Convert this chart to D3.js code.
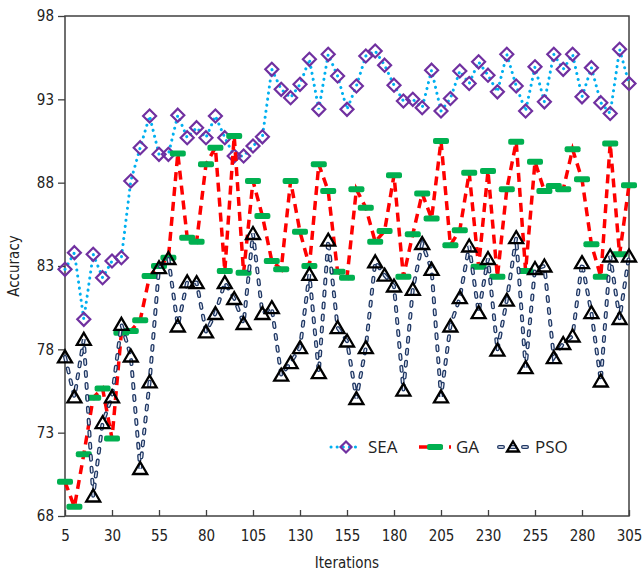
<!DOCTYPE html>
<html>
<head>
<meta charset="utf-8">
<script src="https://cdnjs.cloudflare.com/ajax/libs/d3/7.8.5/d3.min.js"></script>
<style>
  body { margin: 0; background: #fff; }
  svg text { font-family: "DejaVu Sans Condensed", "DejaVu Sans", sans-serif; fill: #222; }
  svg .legend text { font-family: "Open Sans", sans-serif; }
</style>
</head>
<body>
<div id="chart"></div>
<script>
// iterations 5..305, step 5
var iterations = [5,10,15,20,25,30,35,40,45,50,55,60,65,70,75,80,85,90,95,100,
  105,110,115,120,125,130,135,140,145,150,155,160,165,170,175,180,185,190,195,200,
  205,210,215,220,225,230,235,240,245,250,255,260,265,270,275,280,285,290,295,300,305];

var sea = [82.8,83.8,79.8,83.7,82.3,83.3,83.5,88.1,90.1,92.0,89.7,89.7,92.05,90.7,91.3,90.7,92.0,90.7,89.6,89.6,
  90.2,90.75,94.8,93.6,93.1,93.9,95.4,92.4,95.7,94.4,92.4,93.8,95.6,95.9,95.05,93.85,92.9,93.0,92.5,94.75,
  92.3,93.05,94.7,93.95,95.25,94.45,93.45,95.7,93.8,92.3,94.95,92.85,95.7,94.8,95.7,93.15,94.9,92.8,92.15,96.0,93.95];

var ga = [70.05,68.55,71.7,75.1,75.65,72.65,79.0,79.1,79.75,82.4,83.0,83.5,89.75,84.7,84.45,89.1,90.1,82.7,90.8,82.6,
  88.1,86.0,83.3,82.8,88.1,85.05,83.0,89.1,87.5,82.65,82.3,87.6,86.5,84.45,85.1,88.45,82.35,84.9,87.35,85.85,
  90.5,84.25,85.15,88.6,82.95,88.7,82.35,87.6,90.45,82.7,89.25,87.5,87.8,87.6,90.0,88.2,84.3,82.35,90.35,83.7,87.85];

var pso = [77.55,75.15,78.6,69.2,73.6,75.15,79.5,77.6,70.85,76.05,82.9,83.45,79.4,82.05,82.0,79.05,80.15,82.0,81.05,79.55,
  84.95,80.15,80.5,76.45,77.2,78.1,82.5,76.6,84.55,79.3,78.5,75.05,78.1,83.25,82.45,81.8,75.55,81.6,84.35,82.8,
  75.15,79.4,81.1,84.2,80.2,83.45,77.95,80.95,84.7,76.9,82.85,83.0,77.5,78.35,78.8,83.2,80.2,76.1,83.6,79.85,83.6];

var xTicks = [5,30,55,80,105,130,155,180,205,230,255,280,305];
var yTicks = [68,73,78,83,88,93,98];
var seriesNames = ["SEA", "GA", "PSO"];

var w = 643, h = 571,
    marginTop = 16, marginBottom = 55, marginLeft = 65, marginRight = 14,
    contentsWidth = w - marginLeft - marginRight,
    contentsHeight = h - marginTop - marginBottom;

var svg = d3.select("#chart").append("svg")
    .attr("width", w)
    .attr("height", h);

var chartG = svg.append("g")
    .attr("transform", "translate(" + marginLeft + "," + marginTop + ")");

var xScale = d3.scaleLinear().domain([5, 305]).range([0, contentsWidth]);
var yScale = d3.scaleLinear().domain([68, 98]).range([contentsHeight, 0]);

// frame
chartG.append("rect")
    .attr("width", contentsWidth)
    .attr("height", contentsHeight)
    .attr("fill", "none")
    .attr("stroke", "#404040")
    .attr("stroke-width", 1.5);

var xAxis = d3.axisBottom(xScale).tickValues(xTicks).tickSizeInner(-6).tickSizeOuter(0).tickPadding(14);
var yAxis = d3.axisLeft(yScale).tickValues(yTicks).tickSizeInner(7).tickSizeOuter(0).tickPadding(4);

var gx = chartG.append("g")
    .attr("transform", "translate(0," + contentsHeight + ")")
    .call(xAxis);
var gy = chartG.append("g").call(yAxis);

[gx, gy].forEach(function(g) {
  g.select(".domain").remove();
  g.selectAll(".tick line").attr("stroke", "#404040").attr("stroke-width", 1.3);
  g.selectAll(".tick text").style("font-size", "15px").attr("fill", "#222");
});

chartG.append("text")
    .attr("x", contentsWidth / 2)
    .attr("y", contentsHeight + 52)
    .attr("text-anchor", "middle")
    .style("font-size", "15px")
    .text("Iterations");

chartG.append("text")
    .attr("transform", "translate(" + (-46) + "," + (contentsHeight / 2) + ") rotate(-90)")
    .attr("text-anchor", "middle")
    .style("font-size", "15px")
    .text("Accuracy");

var line = function(vals) {
  return d3.line()
    .x(function(d, i) { return xScale(iterations[i]); })
    .y(function(d) { return yScale(d); })(vals);
};

var diamond = "M0,-6.5L6.5,0L0,6.5L-6.5,0Z";
var triangle = "M0,-6.5L7,5.5L-7,5.5Z";

// SEA
chartG.append("path")
    .attr("d", line(sea))
    .attr("fill", "none")
    .attr("stroke", "#00B0F0")
    .attr("stroke-width", 3)
    .attr("stroke-linecap", "round")
    .attr("stroke-dasharray", "0.1 6");

chartG.append("g").selectAll("path")
    .data(sea)
    .enter().append("path")
    .attr("d", diamond)
    .attr("transform", function(d, i) { return "translate(" + xScale(iterations[i]) + "," + yScale(d) + ")"; })
    .attr("fill", "none")
    .attr("stroke", "#7030A0")
    .attr("stroke-width", 2.2);

// GA
chartG.append("path")
    .attr("d", line(ga))
    .attr("fill", "none")
    .attr("stroke", "#FF0000")
    .attr("stroke-width", 3.5)
    .attr("stroke-dasharray", "9 6");

chartG.append("g").selectAll("rect")
    .data(ga)
    .enter().append("rect")
    .attr("x", function(d, i) { return xScale(iterations[i]) - 8; })
    .attr("y", function(d) { return yScale(d) - 3; })
    .attr("width", 16)
    .attr("height", 6)
    .attr("rx", 2)
    .attr("fill", "#00B050");

// PSO
chartG.append("path")
    .attr("d", line(pso))
    .attr("fill", "none")
    .attr("stroke", "#203864")
    .attr("stroke-width", 4)
    .attr("stroke-linecap", "round")
    .attr("stroke-dasharray", "4 8");

chartG.append("path")
    .attr("d", line(pso))
    .attr("fill", "none")
    .attr("stroke", "#e8ecf6")
    .attr("stroke-width", 1.4)
    .attr("stroke-linecap", "round")
    .attr("stroke-dasharray", "4 8");

chartG.append("g").selectAll("path")
    .data(pso)
    .enter().append("path")
    .attr("d", triangle)
    .attr("transform", function(d, i) { return "translate(" + xScale(iterations[i]) + "," + yScale(d) + ")"; })
    .attr("fill", "none")
    .attr("stroke", "#000")
    .attr("stroke-width", 2.3)
    .attr("stroke-linejoin", "miter");

// legend
var legend = svg.append("g").attr("class", "legend");
var legX = [331, 419, 497], legY = 447;

seriesNames.forEach(function(name, k) {
  var g = legend.append("g").attr("transform", "translate(" + legX[k] + "," + legY + ")");
  if (k == 0) {
    g.append("line").attr("x1", 0).attr("x2", 30)
      .attr("stroke", "#00B0F0").attr("stroke-width", 3)
      .attr("stroke-linecap", "round").attr("stroke-dasharray", "0.1 6");
    g.append("path").attr("d", "M0,-5.5L5.5,0L0,5.5L-5.5,0Z").attr("transform", "translate(15,0)")
      .attr("fill", "none").attr("stroke", "#7030A0").attr("stroke-width", 2.2);
  } else if (k == 1) {
    g.append("line").attr("x1", 0).attr("x2", 32)
      .attr("stroke", "#FF0000").attr("stroke-width", 3.5)
      .attr("stroke-dasharray", "9 6");
    g.append("rect").attr("x", 8).attr("y", -3).attr("width", 16).attr("height", 6).attr("rx", 2)
      .attr("fill", "#00B050");
  } else {
    g.append("line").attr("x1", 2).attr("x2", 30)
      .attr("stroke", "#203864").attr("stroke-width", 4)
      .attr("stroke-linecap", "round").attr("stroke-dasharray", "4 8");
    g.append("line").attr("x1", 2).attr("x2", 30)
      .attr("stroke", "#e8ecf6").attr("stroke-width", 1.4)
      .attr("stroke-linecap", "round").attr("stroke-dasharray", "4 8");
    g.append("path").attr("d", "M0,-5.5L6,4.5L-6,4.5Z").attr("transform", "translate(16,0)")
      .attr("fill", "none").attr("stroke", "#000").attr("stroke-width", 2.3);
  }
  g.append("text")
    .attr("x", k == 2 ? 38 : 37)
    .attr("y", 0)
    .attr("dy", "0.35em")
    .style("font-size", "17px")
    .text(name);
});
</script>
</body>
</html>
